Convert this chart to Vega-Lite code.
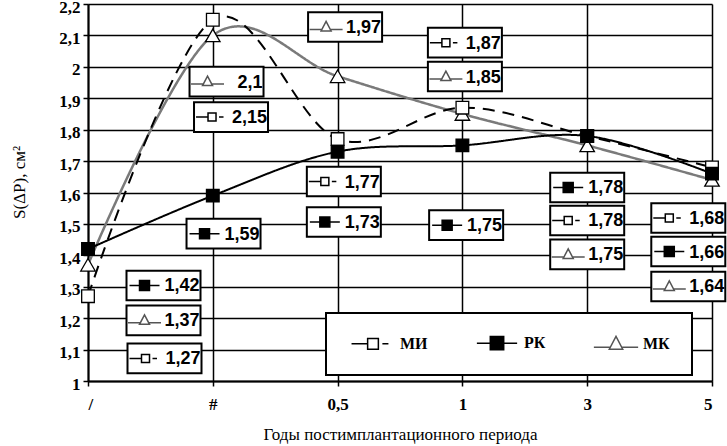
{
  "$schema": "https://vega.github.io/schema/vega-lite/v6.json",
  "width": 624,
  "height": 377,
  "autosize": {"type": "none"},
  "padding": {"left": 88, "top": 4, "right": 15, "bottom": 65},
  "background": "white",
  "config": {
    "locale": {"number": {"decimal": ",", "thousands": " ", "grouping": [3], "currency": ["", ""]}},
    "view": {"stroke": null},
    "axis": {
      "gridColor": "black", "gridWidth": 1.5, "gridOpacity": 1,
      "domainColor": "black", "domainWidth": 2,
      "tickColor": "black", "tickWidth": 1.5, "tickSize": 5,
      "labelColor": "black", "titleColor": "black",
      "labelFont": "Liberation Serif", "titleFont": "Liberation Serif",
      "labelFontWeight": "bold", "titleFontWeight": "normal",
      "labelFontSize": 17, "titleFontSize": 17,
      "labelOverlap": false, "labelBound": false
    }
  },
  "datasets": {
    "series": [
      {"series": "МК", "period": "/", "t": 0, "v": 1.37},
      {"series": "МК", "period": "#", "t": 1, "v": 2.1},
      {"series": "МК", "period": "0,5", "t": 2, "v": 1.97},
      {"series": "МК", "period": "1", "t": 3, "v": 1.85},
      {"series": "МК", "period": "3", "t": 4, "v": 1.75},
      {"series": "МК", "period": "5", "t": 5, "v": 1.64},
      {"series": "МИ", "period": "/", "t": 0, "v": 1.27},
      {"series": "МИ", "period": "#", "t": 1, "v": 2.15},
      {"series": "МИ", "period": "0,5", "t": 2, "v": 1.77},
      {"series": "МИ", "period": "1", "t": 3, "v": 1.87},
      {"series": "МИ", "period": "3", "t": 4, "v": 1.78},
      {"series": "МИ", "period": "5", "t": 5, "v": 1.68},
      {"series": "РК", "period": "/", "t": 0, "v": 1.42},
      {"series": "РК", "period": "#", "t": 1, "v": 1.59},
      {"series": "РК", "period": "0,5", "t": 2, "v": 1.73},
      {"series": "РК", "period": "1", "t": 3, "v": 1.75},
      {"series": "РК", "period": "3", "t": 4, "v": 1.78},
      {"series": "РК", "period": "5", "t": 5, "v": 1.66}
    ],
    "labels": [
      {"series": "МК", "v": 1.97, "lx": 2.06, "ly": 2.127},
      {"series": "МИ", "v": 1.87, "lx": 3.02, "ly": 2.077},
      {"series": "МК", "v": 1.85, "lx": 3.02, "ly": 1.969},
      {"series": "МК", "v": 2.1, "lx": 1.11, "ly": 1.953},
      {"series": "МИ", "v": 2.15, "lx": 1.146, "ly": 1.84},
      {"series": "МИ", "v": 1.77, "lx": 2.05, "ly": 1.635},
      {"series": "РК", "v": 1.73, "lx": 2.05, "ly": 1.506},
      {"series": "РК", "v": 1.59, "lx": 1.086, "ly": 1.469},
      {"series": "РК", "v": 1.75, "lx": 3.03, "ly": 1.496},
      {"series": "РК", "v": 1.78, "lx": 4.0, "ly": 1.616},
      {"series": "МИ", "v": 1.78, "lx": 4.0, "ly": 1.511},
      {"series": "МК", "v": 1.75, "lx": 4.0, "ly": 1.403},
      {"series": "МИ", "v": 1.68, "lx": 4.81, "ly": 1.519},
      {"series": "РК", "v": 1.66, "lx": 4.81, "ly": 1.412},
      {"series": "МК", "v": 1.64, "lx": 4.81, "ly": 1.301},
      {"series": "РК", "v": 1.42, "lx": 0.605, "ly": 1.304},
      {"series": "МК", "v": 1.37, "lx": 0.605, "ly": 1.193},
      {"series": "МИ", "v": 1.27, "lx": 0.613, "ly": 1.072}
    ]
  },
  "layer": [
    {
      "data": {"name": "series"},
      "mark": {"type": "line", "interpolate": "cardinal"},
      "encoding": {
        "x": {
          "field": "t", "type": "quantitative",
          "scale": {"domain": [0, 5], "nice": false, "zero": false},
          "axis": {
            "values": [0, 1, 2, 3, 4, 5],
            "tickCount": 12,
            "labelExpr": "['/', '#', '0,5', '1', '3', '5'][datum.value]",
            "title": "Годы постимплантационного периода",
            "grid": true, "labelPadding": 10, "titlePadding": 14
          }
        },
        "y": {
          "field": "v", "type": "quantitative",
          "scale": {"domain": [1, 2.2], "nice": false, "zero": false},
          "axis": {
            "values": [1, 1.1, 1.2, 1.3, 1.4, 1.5, 1.6, 1.7, 1.8, 1.9, 2, 2.1, 2.2],
            "tickCount": 30,
            "format": ".1~f",
            "title": "S(ΔP), см²",
            "titleY": 178,
            "labelOffset": 3,
            "grid": true, "labelPadding": 3, "titlePadding": 30
          }
        },
        "detail": {"field": "series"},
        "stroke": {"condition": {"test": "datum.series === 'МК'", "value": "#7a7a7a"}, "value": "black"},
        "strokeDash": {"condition": {"test": "datum.series === 'МИ'", "value": [12, 8]}, "value": [1, 0]},
        "strokeWidth": {"condition": {"test": "datum.series === 'МК'", "value": 2.5}, "value": 2},
        "order": {"field": "t"}
      }
    },
    {
      "data": {"name": "series"},
      "mark": {"type": "point", "opacity": 1, "strokeWidth": 1.3},
      "encoding": {
        "x": {"field": "t", "type": "quantitative"},
        "y": {"field": "v", "type": "quantitative"},
        "shape": {"condition": {"test": "datum.series === 'МК'", "value": "triangle-up"}, "value": "square"},
        "fill": {"condition": {"test": "datum.series === 'РК'", "value": "black"}, "value": "white"},
        "stroke": {"value": "black"},
        "size": {"condition": {"test": "datum.series === 'МК'", "value": 210}, "value": 160}
      }
    },
    {
      "data": {"name": "labels"},
      "mark": {"type": "point", "shape": "M-1.25,-0.5H1.25V0.5H-1.25Z", "size": 3505, "fill": "white", "stroke": "black", "strokeWidth": 2, "opacity": 1, "filled": true},
      "encoding": {
        "x": {"field": "lx", "type": "quantitative"},
        "y": {"field": "ly", "type": "quantitative"}
      }
    },
    {
      "data": {"name": "labels"},
      "mark": {"type": "point", "size": 100, "strokeWidth": 1.5, "opacity": 1, "xOffset": -19},
      "encoding": {
        "x": {"field": "lx", "type": "quantitative"},
        "y": {"field": "ly", "type": "quantitative"},
        "shape": {
          "field": "series", "type": "nominal",
          "scale": {"domain": ["МИ", "РК", "МК"], "range": ["M-3.2,0H-0.8M-0.8,-0.8H0.8V0.8H-0.8ZM1.4,0H2.3", "M-3,0H3M-1,-1H1V1H-1Z", "M-3.3,0.5H-0.8M0.8,0.5H3.3M0,-1.1L1,0.8H-1Z"]},
          "legend": {"title": null, "orient": "none", "legendX": 238, "legendY": 309, "direction": "horizontal", "columns": 3, "symbolSize": 180, "symbolStrokeWidth": 1.5, "symbolOffset": 17, "labelFont": "Liberation Serif", "labelFontWeight": "bold", "labelFontSize": 16, "labelColor": "black", "labelOffset": 19, "columnPadding": 44, "padding": 22, "strokeColor": "black", "fillColor": "white", "symbolOpacity": 1, "encode": {"legend": {"update": {"strokeWidth": {"value": 2}}}}}
        },
        "fill": {
          "field": "series", "type": "nominal",
          "scale": {"domain": ["МИ", "РК", "МК"], "range": ["white", "black", "white"]},
          "legend": {"title": null, "orient": "none", "legendX": 238, "legendY": 309, "direction": "horizontal", "columns": 3, "symbolSize": 180, "symbolStrokeWidth": 1.5, "symbolOffset": 17, "labelFont": "Liberation Serif", "labelFontWeight": "bold", "labelFontSize": 16, "labelColor": "black", "labelOffset": 19, "columnPadding": 44, "padding": 22, "strokeColor": "black", "fillColor": "white", "symbolOpacity": 1, "encode": {"legend": {"update": {"strokeWidth": {"value": 2}}}}}
        },
        "stroke": {
          "field": "series", "type": "nominal",
          "scale": {"domain": ["МИ", "РК", "МК"], "range": ["black", "black", "#555555"]},
          "legend": {"title": null, "orient": "none", "legendX": 238, "legendY": 309, "direction": "horizontal", "columns": 3, "symbolSize": 180, "symbolStrokeWidth": 1.5, "symbolOffset": 17, "labelFont": "Liberation Serif", "labelFontWeight": "bold", "labelFontSize": 16, "labelColor": "black", "labelOffset": 19, "columnPadding": 44, "padding": 22, "strokeColor": "black", "fillColor": "white", "symbolOpacity": 1, "encode": {"legend": {"update": {"strokeWidth": {"value": 2}}}}}
        }
      }
    },
    {
      "data": {"name": "labels"},
      "mark": {"type": "text", "align": "right", "baseline": "middle", "dx": 36, "dy": 1, "font": "Liberation Sans", "fontWeight": "bold", "fontSize": 18, "color": "black"},
      "encoding": {
        "x": {"field": "lx", "type": "quantitative"},
        "y": {"field": "ly", "type": "quantitative"},
        "text": {"field": "v", "type": "quantitative", "format": ".2~f"}
      }
    }
  ]
}
